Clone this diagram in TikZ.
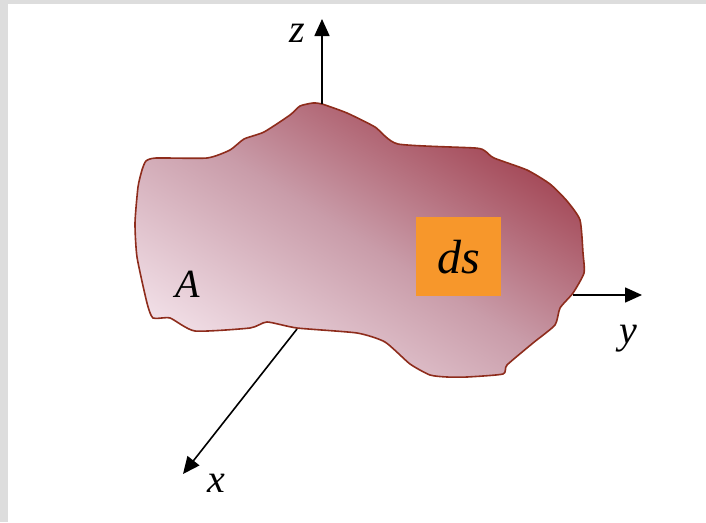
\documentclass[tikz,border=0pt]{standalone}
\usepackage{fontspec}
\setmainfont{Liberation Serif}
\usetikzlibrary{arrows.meta,positioning}
\definecolor{framegrey}{HTML}{DDDDDD}
\definecolor{areadark}{HTML}{A0404F}
\definecolor{areamid}{HTML}{C99CA9}
\definecolor{arealight}{HTML}{F0DDE5}
\definecolor{arealine}{HTML}{8E2C1C}
\definecolor{patchorange}{HTML}{F7972B}

\begin{document}
\begin{tikzpicture}[x=1pt,y=1pt,
region/.style={draw=arealine,line width=1.6pt,top color=areadark,bottom color=arealight,middle color=areamid,shading angle=-32},
patch/.style={fill=patchorange,minimum width=85pt,minimum height=79pt,inner sep=0pt},
lbl/.style={font=\fontsize{40}{44}\selectfont\itshape,inner sep=0pt},
axis/.style={-{Triangle[length=17pt,width=15pt]},line width=1.6pt}]
\useasboundingbox(0,0)rectangle(706,-522);
\fill[framegrey](0,0)rectangle(706,-4);
\fill[framegrey](0,0)rectangle(8,-522);
% surface A
\shade[region] plot[smooth cycle,tension=0.35] coordinates{
(142,-170)(146,-161)(156,-158)(207,-158)(230,-150)(244,-139)(264,-132)(290,-115)(300,-106)(313,-103)
(322,-104)(347,-113)(375,-127)(398,-144)(475,-148)(485,-151)(494,-158)(527,-170)(550,-184)(567,-201)
(580,-220)(583,-253)(584,-273)(573,-293)(560,-308)(555,-325)(533,-343)(507,-365)(503,-374)(467,-377)
(447,-377)(430,-375)(410,-364)(385,-342)(357,-333)(297,-328)(267,-322)(250,-328)(195,-331)(170,-318)
(153,-318)(147,-303)(137,-257)(135,-223)(138,-187)};
% axes
\coordinate(zfoot)at(322,-104);\coordinate(ztip)at(322,-19);
\coordinate(yfoot)at(573,-295);\coordinate(ytip)at(642,-295);
\coordinate(xfoot)at(297,-329);\coordinate(xtip)at(183,-474);
\draw[axis](zfoot)--(ztip);\draw[axis](yfoot)--(ytip);\draw[axis](xfoot)--(xtip);
\node[lbl,anchor=base](zlab)at(297,-42){z};
\node[lbl,anchor=base](ylab)at(628,-343){y};
\node[lbl,anchor=base](xlab)at(216,-492){x};
\node[lbl,anchor=base](alab)at(188,-297){A};
\node[patch](ds)at(458.5,-256.5){};
\node[lbl,anchor=base,font=\fontsize{48}{52}\selectfont\itshape](dslab)at(459,-273){ds};
\end{tikzpicture}
\end{document}
